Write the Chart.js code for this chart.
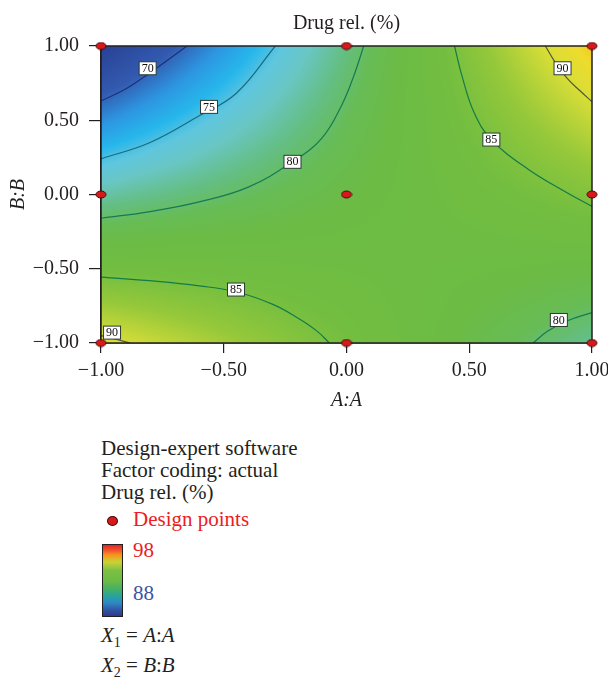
<!DOCTYPE html>
<html>
<head>
<meta charset="utf-8">
<script src="https://cdn.jsdelivr.net/npm/chart.js@4.4.0/dist/chart.umd.min.js"></script>
<style>
body { margin: 0; background: #fff; }
#wrap { position: relative; width: 608px; height: 677px; overflow: hidden; font-family: "Liberation Serif", "Times New Roman", serif; color: #231f20; }
#myChart { position: absolute; left: 0; top: 0; }
.txt { position: absolute; left: 101px; font-size: 21px; line-height: 25px; white-space: nowrap; }
.txt sub { font-size: 14px; line-height: 0; vertical-align: -5px; }
#dot { position: absolute; left: 107px; top: 516px; width: 9px; height: 8px; border-radius: 50%; background: #d7191c; border: 1px solid #4a0c0c; }
#bar { position: absolute; left: 102px; top: 544px; width: 19px; height: 71px; border: 1.5px solid #231f20;
  background: linear-gradient(to bottom, #e3222a 0%, #f0592a 8%, #f7941d 14%, #c9d334 24%, #7cc043 36%, #6cbb45 50%, #3fae6a 64%, #27a3a0 72%, #2f86c6 82%, #3152a2 92%, #2e3a8c 100%); }
</style>
</head>
<body>
<div id="wrap">
<canvas id="myChart" width="608" height="420"></canvas>
<div class="txt" style="top:436px">Design-expert software</div>
<div class="txt" style="top:458px">Factor coding: actual</div>
<div class="txt" style="top:480px">Drug rel. (%)</div>
<div id="dot"></div>
<div class="txt" style="top:507px;left:133px;color:#ed1c24">Design points</div>
<div id="bar"></div>
<div class="txt" style="top:538px;left:133px;color:#ed1c24">98</div>
<div class="txt" style="top:581px;left:133px;color:#3b54a4">88</div>
<div class="txt" style="top:623px"><i>X</i><sub>1</sub> = <i>A</i>:<i>A</i></div>
<div class="txt" style="top:653px"><i>X</i><sub>2</sub> = <i>B</i>:<i>B</i></div>
</div>
<script>
// design points (coded factors A, B)
var designA = [-1, 0, 1, -1, 0, 1, -1, 0, 1];
var designB = [1, 1, 1, 0, 0, 0, -1, -1, -1];

// response surface at the design grid
var gridA = [-1, 0, 1];
var gridB = [-1, 0, 1];
var respLow = [90.6, 84.6, 78.5];   // B = -1
var respMid = [77.9, 81.8, 85.6];   // B = 0
var respHigh = [65.3, 79.0, 92.8];  // B = 1

// contour lines
var contourLevels = [70, 75, 80, 85, 90, 85, 90, 80];
var contourA = [
  [-1, -0.9, -0.8, -0.7, -0.65],
  [-1, -0.8, -0.6, -0.45, -0.29],
  [-1, -0.8, -0.6, -0.4, -0.22, -0.1, -0.02, 0.03, 0.07],
  [0.44, 0.47, 0.52, 0.59, 0.74, 0.9, 1],
  [0.81, 0.85, 0.9, 0.95, 1],
  [-1, -0.77, -0.6, -0.45, -0.3, -0.2, -0.12, -0.07],
  [-1, -0.94, -0.88],
  [0.76, 0.82, 0.9, 1]
];
var contourB = [
  [0.63, 0.71, 0.82, 0.94, 1],
  [0.24, 0.35, 0.53, 0.68, 1],
  [-0.16, -0.115, -0.05, 0.05, 0.22, 0.38, 0.6, 0.8, 1],
  [1, 0.8, 0.55, 0.37, 0.17, 0.01, -0.08],
  [1, 0.89, 0.78, 0.7, 0.625],
  [-0.557, -0.585, -0.615, -0.655, -0.74, -0.83, -0.92, -1],
  [-0.95, -0.975, -1],
  [-1, -0.92, -0.85, -0.795]
];
var lineColors = ['#1f2f78', '#1d6a7a', '#147a55', '#147a4a', '#4f5a35', '#147a4a', '#4f5a35', '#147a55'];

// contour label positions
var labelText = ['70', '75', '80', '85', '90', '85', '90', '80'];
var labelA = [-0.81, -0.56, -0.22, 0.59, 0.88, -0.45, -0.955, 0.865];
var labelB = [0.85, 0.59, 0.22, 0.37, 0.85, -0.64, -0.93, -0.845];

var cmapVal = [65, 69.5, 72, 74, 75.5, 77, 79, 80.5, 82, 84.5, 87, 90, 91.8, 93];
var cmapCol = [[40,62,145],[50,90,175],[45,150,225],[38,182,235],[95,198,222],[105,198,196],[100,190,130],
  [103,188,85],[107,187,69],[115,190,64],[150,200,58],[215,221,55],[238,220,45],[246,196,30]];

var serif = '"Liberation Serif", "Times New Roman", serif';
var ink = '#231f20';

function surfaceAt(a, b) {
  var rows = [respLow, respMid, respHigh];
  var i = a < gridA[1] ? 0 : 1;
  var j = b < gridB[1] ? 0 : 1;
  var ta = (a - gridA[i]) / (gridA[i + 1] - gridA[i]);
  var tb = (b - gridB[j]) / (gridB[j + 1] - gridB[j]);
  var v0 = rows[j][i] * (1 - ta) + rows[j][i + 1] * ta;
  var v1 = rows[j + 1][i] * (1 - ta) + rows[j + 1][i + 1] * ta;
  return v0 * (1 - tb) + v1 * tb;
}

function colorFor(v) {
  if (v <= cmapVal[0]) return cmapCol[0];
  for (var k = 1; k < cmapVal.length; k++) {
    if (v <= cmapVal[k]) {
      var t = (v - cmapVal[k - 1]) / (cmapVal[k] - cmapVal[k - 1]);
      var c0 = cmapCol[k - 1], c1 = cmapCol[k];
      return [c0[0] + (c1[0] - c0[0]) * t, c0[1] + (c1[1] - c0[1]) * t, c0[2] + (c1[2] - c0[2]) * t];
    }
  }
  return cmapCol[cmapCol.length - 1];
}

var heatmap = {
  id: 'heatmap',
  beforeDatasetsDraw: function (chart) {
    var ctx = chart.ctx, ca = chart.chartArea, xs = chart.scales.x, ys = chart.scales.y;
    var w = Math.round(ca.right - ca.left), h = Math.round(ca.bottom - ca.top);
    var off = document.createElement('canvas');
    off.width = w; off.height = h;
    var octx = off.getContext('2d');
    var img = octx.createImageData(w, h);
    for (var j = 0; j < h; j++) {
      var b = ys.getValueForPixel(ca.top + j + 0.5);
      for (var i = 0; i < w; i++) {
        var a = xs.getValueForPixel(ca.left + i + 0.5);
        var c = colorFor(surfaceAt(a, b));
        var k = (j * w + i) * 4;
        img.data[k] = c[0]; img.data[k + 1] = c[1]; img.data[k + 2] = c[2]; img.data[k + 3] = 255;
      }
    }
    octx.putImageData(img, 0, 0);
    ctx.drawImage(off, ca.left, ca.top);
  },
  beforeDatasetDraw: function (chart, args) {
    if (args.index !== 0) return;
    var ctx = chart.ctx, ca = chart.chartArea, xs = chart.scales.x, ys = chart.scales.y;
    ctx.save();
    ctx.strokeStyle = ink;
    ctx.lineWidth = 1.5;
    ctx.strokeRect(ca.left, ca.top, ca.right - ca.left, ca.bottom - ca.top);
    ctx.font = '12px ' + serif;
    ctx.textAlign = 'center';
    ctx.textBaseline = 'middle';
    for (var i = 0; i < labelText.length; i++) {
      var px = xs.getPixelForValue(labelA[i]), py = ys.getPixelForValue(labelB[i]);
      var tw = ctx.measureText(labelText[i]).width + 5;
      ctx.fillStyle = '#fff';
      ctx.fillRect(px - tw / 2, py - 6.5, tw, 13);
      ctx.strokeStyle = '#2c3a33';
      ctx.lineWidth = 1;
      ctx.strokeRect(px - tw / 2, py - 6.5, tw, 13);
      ctx.fillStyle = '#111';
      ctx.fillText(labelText[i], px, py + 0.5);
    }
    ctx.restore();
  }
};

var dotImg = document.createElement('canvas');
dotImg.width = 12; dotImg.height = 9;
var dctx = dotImg.getContext('2d');
dctx.beginPath();
dctx.ellipse(6, 4.5, 5, 3.5, 0, 0, Math.PI * 2);
dctx.fillStyle = '#d7191c';
dctx.fill();
dctx.strokeStyle = '#4a0c0c';
dctx.lineWidth = 1;
dctx.stroke();

var datasets = [{
  data: designA.map(function (a, i) { return { x: a, y: designB[i] }; }),
  pointStyle: dotImg,
  pointRadius: 5,
  clip: false
}];
for (var n = 0; n < contourLevels.length; n++) {
  datasets.push({
    data: contourA[n].map(function (a, i) { return { x: a, y: this[i] }; }, contourB[n]),
    showLine: true,
    pointRadius: 0,
    borderColor: lineColors[n],
    borderWidth: 1.2,
    tension: 0.4,
    fill: false
  });
}

function fmt(v) {
  var s = Number(v).toFixed(2);
  return s.charAt(0) === '-' ? '\u2212' + s.slice(1) : s;
}

new Chart('myChart', {
  type: 'scatter',
  data: { datasets: datasets },
  plugins: [heatmap],
  options: {
    responsive: false,
    animation: false,
    devicePixelRatio: 1,
    layout: { autoPadding: false, padding: { left: 0, right: 16, top: 0, bottom: 0 } },
    plugins: {
      legend: { display: false },
      tooltip: { enabled: false },
      title: {
        display: true,
        text: 'Drug rel. (%)',
        fullSize: false,
        color: ink,
        font: { family: serif, size: 20, weight: 'normal' },
        padding: { top: 12, bottom: 10 }
      }
    },
    scales: {
      x: {
        type: 'linear', min: -1, max: 1,
        afterFit: function (s) { s.height = 77; s.paddingLeft = 0; s.paddingRight = 0; },
        grid: { drawOnChartArea: false, tickLength: 10, color: ink, lineWidth: 1.2 },
        border: { display: true, color: ink, width: 1.5 },
        ticks: { stepSize: 0.5, padding: 6, color: ink, font: { family: serif, size: 20 }, callback: fmt },
        title: { display: true, text: 'A:A', color: ink, font: { family: serif, size: 20, style: 'italic' }, padding: { top: 0, bottom: 7 } }
      },
      y: {
        type: 'linear', min: -1, max: 1,
        afterFit: function (s) { s.width = 101; s.paddingTop = 0; s.paddingBottom = 0; },
        grid: { drawOnChartArea: false, tickLength: 12, color: ink, lineWidth: 1.2 },
        border: { display: true, color: ink, width: 1.5 },
        ticks: { stepSize: 0.5, padding: 10, color: ink, font: { family: serif, size: 20 }, callback: fmt },
        title: { display: true, text: 'B:B', color: ink, font: { family: serif, size: 20, style: 'italic' }, padding: { top: 7, bottom: 0 } }
      }
    }
  }
});
</script>
</body>
</html>
